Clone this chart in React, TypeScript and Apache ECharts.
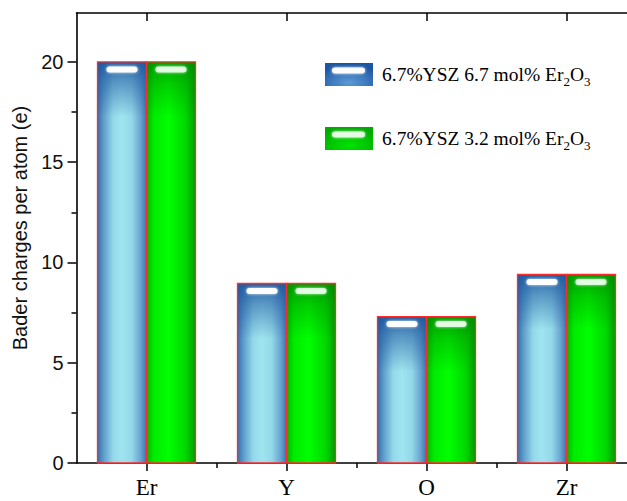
import React, { useEffect, useRef } from 'react';
import * as echarts from 'echarts';

const categories = ['Er', 'Y', 'O', 'Zr'];
const positions = [1, 2, 3, 4];
const seriesNames = ['6.7%YSZ 6.7 mol% Er2O3', '6.7%YSZ 3.2 mol% Er2O3'];
const values67 = [20.0, 8.95, 7.3, 9.4];
const values32 = [20.0, 8.95, 7.3, 9.4];
const yMajorTicks = [0, 5, 10, 15, 20];
const yMinorTicks = [2.5, 7.5, 12.5, 17.5];
const xMinorTicks = [1.5, 2.5, 3.5];

const BAR_W = 0.35;
const BLACK = '#000';
const RED = '#ff2a2a';

const blueBody = () =>
  new echarts.graphic.LinearGradient(0, 0, 1, 0, [
    { offset: 0, color: '#3470ae' },
    { offset: 0.12, color: '#5d9cca' },
    { offset: 0.32, color: '#93d9e9' },
    { offset: 0.5, color: '#a0e4f0' },
    { offset: 0.7, color: '#93d8e8' },
    { offset: 0.88, color: '#6aa3cf' },
    { offset: 1, color: '#3a76b2' },
  ]);
const greenBody = () =>
  new echarts.graphic.LinearGradient(0, 0, 1, 0, [
    { offset: 0, color: '#00b400' },
    { offset: 0.15, color: '#00ec00' },
    { offset: 0.45, color: '#00ff00' },
    { offset: 0.8, color: '#00d800' },
    { offset: 1, color: '#009a00' },
  ]);
const blueTop = () =>
  new echarts.graphic.LinearGradient(0, 0, 0, 1, [
    { offset: 0, color: 'rgba(30,88,160,0.95)' },
    { offset: 0.35, color: 'rgba(30,88,160,0.55)' },
    { offset: 1, color: 'rgba(30,88,160,0)' },
  ]);
const greenTop = () =>
  new echarts.graphic.LinearGradient(0, 0, 0, 1, [
    { offset: 0, color: 'rgba(0,140,0,0.85)' },
    { offset: 0.4, color: 'rgba(0,140,0,0.4)' },
    { offset: 1, color: 'rgba(0,140,0,0)' },
  ]);

function makeRender(offset: number, kind: 'blue' | 'green') {
  return (_params: any, api: any) => {
    const x = api.value(0) as number;
    const v = api.value(1) as number;
    const tl = api.coord([x + offset, v]);
    const br = api.coord([x + offset + BAR_W, 0]);
    const w = br[0] - tl[0];
    const h = br[1] - tl[1];
    const shape = { x: tl[0], y: tl[1], width: w, height: h };
    return {
      type: 'group',
      children: [
        { type: 'rect', shape, style: { fill: kind === 'blue' ? blueBody() : greenBody() } },
        {
          type: 'rect',
          shape: { x: tl[0], y: tl[1], width: w, height: Math.min(55, h) },
          style: { fill: kind === 'blue' ? blueTop() : greenTop() },
        },
        {
          type: 'rect',
          shape: { x: tl[0] + (w - 31) / 2, y: tl[1] + 4.5, width: 31, height: 6, r: 3 },
          style: {
            fill: kind === 'blue' ? 'rgba(255,255,255,0.95)' : 'rgba(235,255,235,0.85)',
            shadowBlur: 3,
            shadowColor: 'rgba(255,255,255,0.9)',
          },
        },
        { type: 'rect', shape, style: { fill: 'none', stroke: RED, lineWidth: 1.3 } },
      ],
    };
  };
}

const axisLine = { show: true, onZero: false, lineStyle: { color: BLACK, width: 1.6 } };
const tickLine = { color: BLACK, width: 1.5 };

export default function App() {
  const ref = useRef<HTMLDivElement>(null);
  useEffect(() => {
    if (!ref.current) return;
    const chart = echarts.init(ref.current, null, { renderer: 'svg' });
    const subFmt = (name: string) => name.replace('Er2O3', 'Er{sub|2}O{sub|3}');
    const option: any = {
      animation: false,
      backgroundColor: '#fff',
      grid: { left: 76.5, right: 23.5, top: 13, bottom: 38, outerBoundsMode: 'none', containLabel: false },
      legend: {
        show: true,
        orient: 'vertical',
        left: 325,
        top: 61.5,
        padding: 0,
        itemWidth: 48,
        itemHeight: 23,
        itemGap: 38,
        icon: 'rect',
        selectedMode: false,
        formatter: subFmt,
        textStyle: {
          fontFamily: 'Liberation Serif',
          fontSize: 19.5,
          color: BLACK,
          lineHeight: 26,
          padding: [0, 0, 0, 4],
          rich: {
            sub: { fontFamily: 'Liberation Serif', fontSize: 13, color: BLACK, verticalAlign: 'bottom', lineHeight: 14 },
          },
        },
        data: [
          {
            name: seriesNames[0],
            itemStyle: {
              borderWidth: 0,
              color: new echarts.graphic.RadialGradient(0.5, 0.85, 0.75, [
                { offset: 0, color: '#5d9bd6' },
                { offset: 1, color: '#1c56a2' },
              ]),
            },
          },
          {
            name: seriesNames[1],
            itemStyle: {
              borderWidth: 0,
              color: new echarts.graphic.RadialGradient(0.5, 0.8, 0.75, [
                { offset: 0, color: '#00e400' },
                { offset: 1, color: '#00aa00' },
              ]),
            },
          },
        ],
      },
      graphic: [
        {
          type: 'rect',
          shape: { x: 332, y: 67.5, width: 33, height: 6, r: 3 },
          style: { fill: 'rgba(255,255,255,0.95)', shadowBlur: 3, shadowColor: 'rgba(255,255,255,0.9)' },
          z: 100,
        },
        {
          type: 'rect',
          shape: { x: 332, y: 131.5, width: 33, height: 6, r: 3 },
          style: { fill: 'rgba(235,255,235,0.85)', shadowBlur: 3, shadowColor: 'rgba(255,255,255,0.9)' },
          z: 100,
        },
      ],
      xAxis: [
        {
          type: 'value',
          min: 0.5,
          max: 4.5,
          position: 'bottom',
          axisLine,
          axisTick: { show: true, customValues: positions, length: 8, lineStyle: tickLine },
          axisLabel: {
            show: true,
            customValues: positions,
            formatter: (v: number) => categories[Math.round(v) - 1] ?? '',
            margin: 13,
            fontFamily: 'Liberation Serif',
            fontSize: 23,
            color: BLACK,
          },
          splitLine: { show: false },
        },
        {
          type: 'value',
          min: 0.5,
          max: 4.5,
          position: 'bottom',
          axisLine: { show: false },
          axisTick: { show: true, customValues: xMinorTicks, length: 5, lineStyle: tickLine },
          axisLabel: { show: false },
          splitLine: { show: false },
        },
        {
          type: 'value',
          min: 0.5,
          max: 4.5,
          position: 'top',
          axisLine,
          axisTick: { show: true, inside: true, customValues: positions, length: 8, lineStyle: tickLine },
          axisLabel: { show: false },
          splitLine: { show: false },
        },
      ],
      yAxis: [
        {
          type: 'value',
          min: 0,
          max: 22.44,
          position: 'left',
          axisLine,
          axisTick: { show: true, customValues: yMajorTicks, length: 9, lineStyle: tickLine },
          axisLabel: {
            show: true,
            customValues: yMajorTicks,
            margin: 13,
            fontFamily: 'Liberation Sans',
            fontSize: 20,
            color: '#111',
          },
          splitLine: { show: false },
          name: 'Bader charges per atom (e)',
          nameLocation: 'middle',
          nameGap: 43,
          nameRotate: 90,
          nameTextStyle: {
            fontFamily: 'Liberation Sans',
            fontSize: 20,
            color: '#111',
            padding: [0, 0, 0, 20],
          },
        },
        {
          type: 'value',
          min: 0,
          max: 22.44,
          position: 'left',
          axisLine: { show: false },
          axisTick: { show: true, customValues: yMinorTicks, length: 5, lineStyle: tickLine },
          axisLabel: { show: false },
          splitLine: { show: false },
        },
      ],
      series: [
        {
          name: seriesNames[0],
          type: 'custom',
          xAxisIndex: 0,
          yAxisIndex: 0,
          itemStyle: { color: '#2d6fb5' },
          encode: { x: 0, y: 1 },
          renderItem: makeRender(-BAR_W, 'blue'),
          data: positions.map((p, i) => [p, values67[i]]),
          z: 2,
        },
        {
          name: seriesNames[1],
          type: 'custom',
          xAxisIndex: 0,
          yAxisIndex: 0,
          itemStyle: { color: '#00c800' },
          encode: { x: 0, y: 1 },
          renderItem: makeRender(0, 'green'),
          data: positions.map((p, i) => [p, values32[i]]),
          z: 2,
        },
      ],
    };
    chart.setOption(option);
    return () => chart.dispose();
  }, []);
  return (
    <div
      ref={ref}
      style={{ position: 'absolute', left: 0, top: 0, width: 660, height: 501 }}
    />
  );
}
